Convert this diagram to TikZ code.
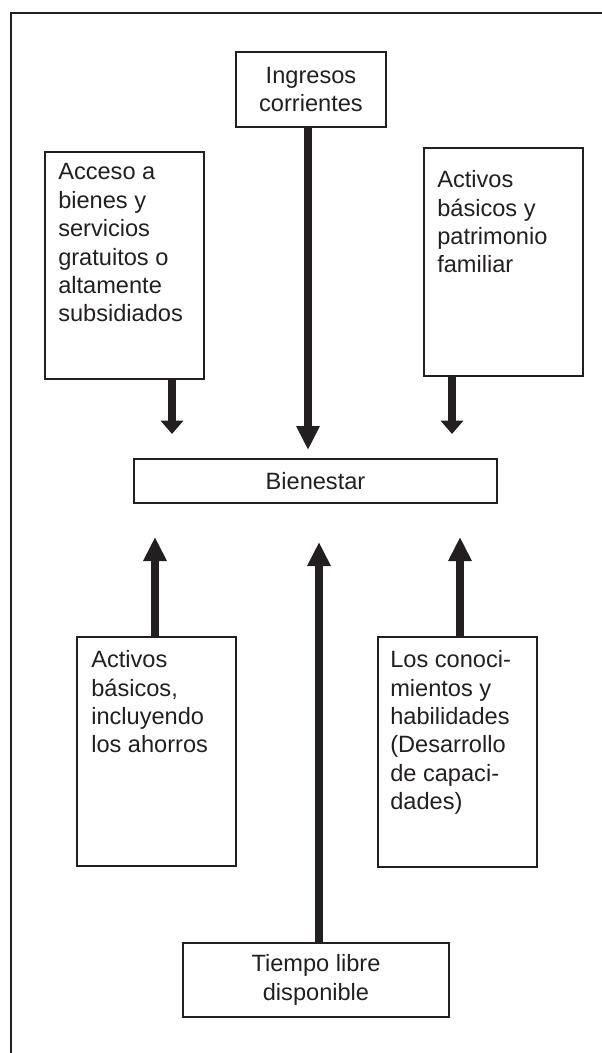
\documentclass[tikz,border=0pt]{standalone}
\usepackage{fontspec}
\setmainfont{Liberation Sans}
\usetikzlibrary{arrows.meta}
\definecolor{tinta}{RGB}{35,31,32}

\begin{document}
\begin{tikzpicture}[x=0.75pt,y=0.75pt,yscale=-1,xscale=1,
  caja/.style={draw=tinta, line width=1.6pt, inner sep=0pt, text=tinta,
    font=\fontsize{17.7pt}{21.3pt}\selectfont, align=center},
  texto/.style={inner sep=0pt, anchor=north west, align=left, text=tinta,
    font=\fontsize{17.7pt}{21.3pt}\selectfont},
  flecha/.style={draw=tinta, line width=6pt, -{Triangle[length=18pt,width=16.5pt]}},
  flechacorta/.style={draw=tinta, line width=6pt, -{Triangle[length=10pt,width=16.5pt]}}]
\useasboundingbox (0,0) rectangle (602,1053);

%Frame
\draw [draw=tinta, line width=1.7pt] (11,1053) -- (11,13) -- (602,13) ;

%Shape: Rectangle [top]
\node [caja, minimum width=112.5pt, minimum height=56.25pt] (ingresos) at (311,89.5) {Ingresos\\corrientes};
%Shape: Rectangle [left top]
\node [caja, minimum width=119.25pt, minimum height=170.25pt] (acceso) at (124.5,265.5) {};
%Shape: Rectangle [right top]
\node [caja, minimum width=119.25pt, minimum height=171pt] (patrimonio) at (503.5,262) {};
%Shape: Rectangle [middle]
\node [caja, minimum width=272.25pt, minimum height=33pt] (bienestar) at (315.5,481) {Bienestar};
%Shape: Rectangle [left bottom]
\node [caja, minimum width=119.25pt, minimum height=171.75pt] (ahorros) at (156.5,751.5) {};
%Shape: Rectangle [right bottom]
\node [caja, minimum width=119.25pt, minimum height=172.5pt] (conocimientos) at (457.5,752) {};
%Shape: Rectangle [bottom]
\node [caja, minimum width=199.5pt, minimum height=55.5pt] (tiempo) at (316,980) {Tiempo libre\\disponible};

% Text Node
\node [texto] (accesotxt) at (58,163.3) {Acceso a\\bienes y\\servicios\\gratuitos o\\altamente\\subsidiados};
% Text Node
\node [texto] (patrimoniotxt) at (437,170.3) {Activos\\básicos y\\patrimonio\\familiar};
% Text Node
\node [texto] (ahorrostxt) at (91,650.3) {Activos\\básicos,\\incluyendo\\los ahorros};
% Text Node
\node [texto] (conocimientostxt) at (390,650.3) {Los conoci-\\mientos y\\habilidades\\(Desarrollo\\de capaci-\\dades)};

%Arrow tips
\coordinate (puntaIng) at (308,450);
\coordinate (puntaAcc) at (172,434);
\coordinate (puntaPat) at (452,434);
\coordinate (puntaAho) at (155,537);
\coordinate (puntaTie) at (319,542);
\coordinate (puntaCon) at (460,537);

%Straight Lines
\draw [flecha] (ingresos.south -| puntaIng) -- (puntaIng) ;
\draw [flechacorta] (acceso.south -| puntaAcc) -- (puntaAcc) ;
\draw [flechacorta] (patrimonio.south -| puntaPat) -- (puntaPat) ;
\draw [flecha] (ahorros.north -| puntaAho) -- (puntaAho) ;
\draw [flecha] (tiempo.north -| puntaTie) -- (puntaTie) ;
\draw [flecha] (conocimientos.north -| puntaCon) -- (puntaCon) ;

\end{tikzpicture}
\end{document}
